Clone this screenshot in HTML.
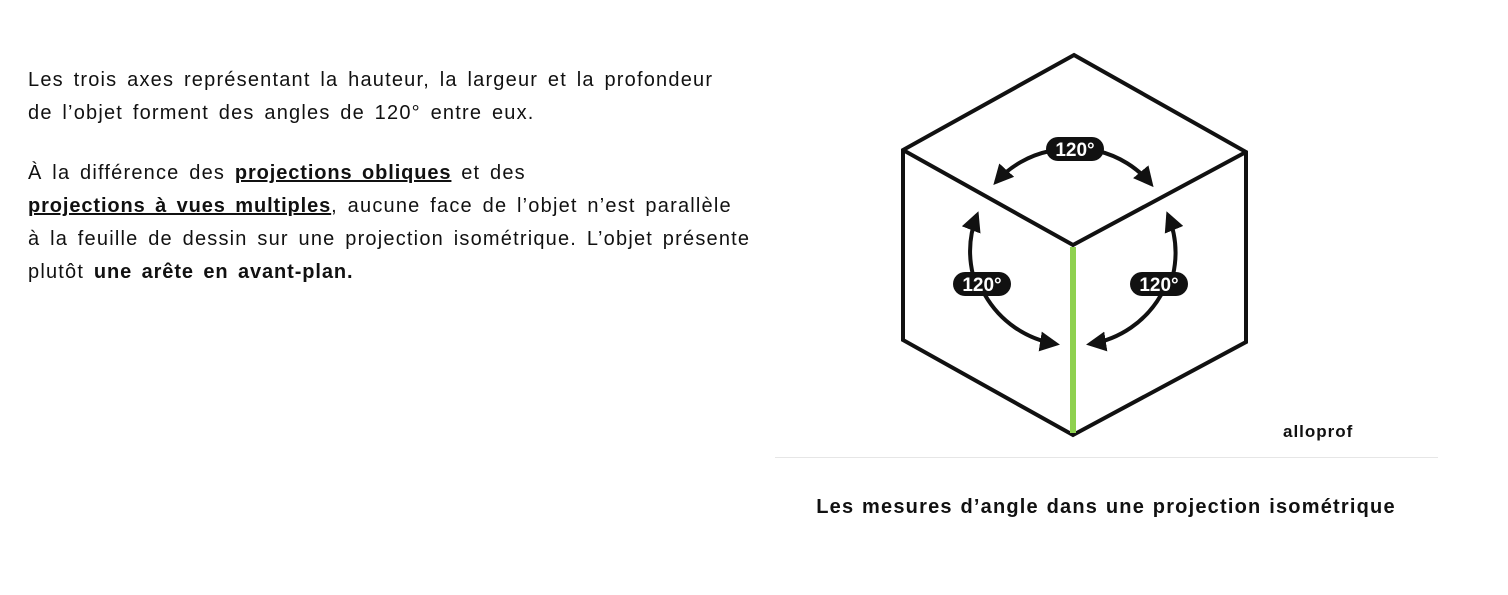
<!DOCTYPE html>
<html><head><style>
body{margin:0;width:1508px;height:595px;background:#fff;position:relative;font-family:"Liberation Sans",sans-serif;color:#111;overflow:hidden}
.p{position:absolute;left:28px;font-size:20px;line-height:33px;width:760px;letter-spacing:1.2px;word-spacing:3px;white-space:nowrap}
.p b{font-weight:bold;letter-spacing:0.9px}
.u{text-decoration:underline;text-decoration-thickness:2px}
</style></head><body>
<div class="p" style="top:64px">Les trois axes représentant la hauteur, la largeur et la profondeur<br>de l’objet forment des angles de 120° entre eux.</div>
<div class="p" style="top:157px">À la différence des <b class="u">projections obliques</b> et des<br><b class="u">projections à vues multiples</b>, aucune face de l’objet n’est parallèle<br>à la feuille de dessin sur une projection isométrique. L’objet présente<br>plutôt <b>une arête en avant-plan.</b></div>
<svg width="1508" height="595" style="position:absolute;left:0;top:0">
<defs><marker id="a" markerWidth="5" markerHeight="5" refX="4" refY="2.5" orient="auto" markerUnits="strokeWidth"><path d="M0,0 L5,2.5 L0,5 z" fill="#111"/></marker></defs>
<g fill="none" stroke="#111" stroke-width="4" stroke-linejoin="miter">
<polygon points="1074,55 1246,152 1246,342 1073,435 903,340 903,150"/>
<polyline points="903,150 1073,245 1246,152"/>
</g>
<line x1="1073" y1="247" x2="1073" y2="433" stroke="#8fd14f" stroke-width="6"/>
<g fill="none" stroke="#111" stroke-width="4">
<path d="M1050,151 A100,100 0 0 0 996,182" marker-end="url(#a)"/>
<path d="M1098,151 A100,100 0 0 1 1151,184" marker-end="url(#a)"/>
<path d="M973,275 A100,100 0 0 1 977,215" marker-end="url(#a)"/>
<path d="M985,295 A100,100 0 0 0 1056,344" marker-end="url(#a)"/>
<path d="M1173,275 A100,100 0 0 0 1168,215" marker-end="url(#a)"/>
<path d="M1161,295 A100,100 0 0 1 1090,344" marker-end="url(#a)"/>
</g>
<g font-family="Liberation Sans" font-weight="bold" font-size="19" fill="#fff" text-anchor="middle">
<rect x="1046" y="137" width="58" height="24" rx="12" fill="#111"/><text x="1075" y="156">120°</text>
<rect x="953" y="272" width="58" height="24" rx="12" fill="#111"/><text x="982" y="291">120°</text>
<rect x="1130" y="272" width="58" height="24" rx="12" fill="#111"/><text x="1159" y="291">120°</text>
</g>
<text x="1283" y="437" font-family="Liberation Sans" font-weight="bold" font-size="17" letter-spacing="1" fill="#111">alloprof</text>
<line x1="775" y1="457.5" x2="1438" y2="457.5" stroke="#e6e6e6" stroke-width="1"/>
<text x="1106" y="513" font-family="Liberation Sans" font-weight="bold" font-size="20" letter-spacing="1.2" word-spacing="1" fill="#111" text-anchor="middle">Les mesures d’angle dans une projection isométrique</text>
</svg>
</body></html>
